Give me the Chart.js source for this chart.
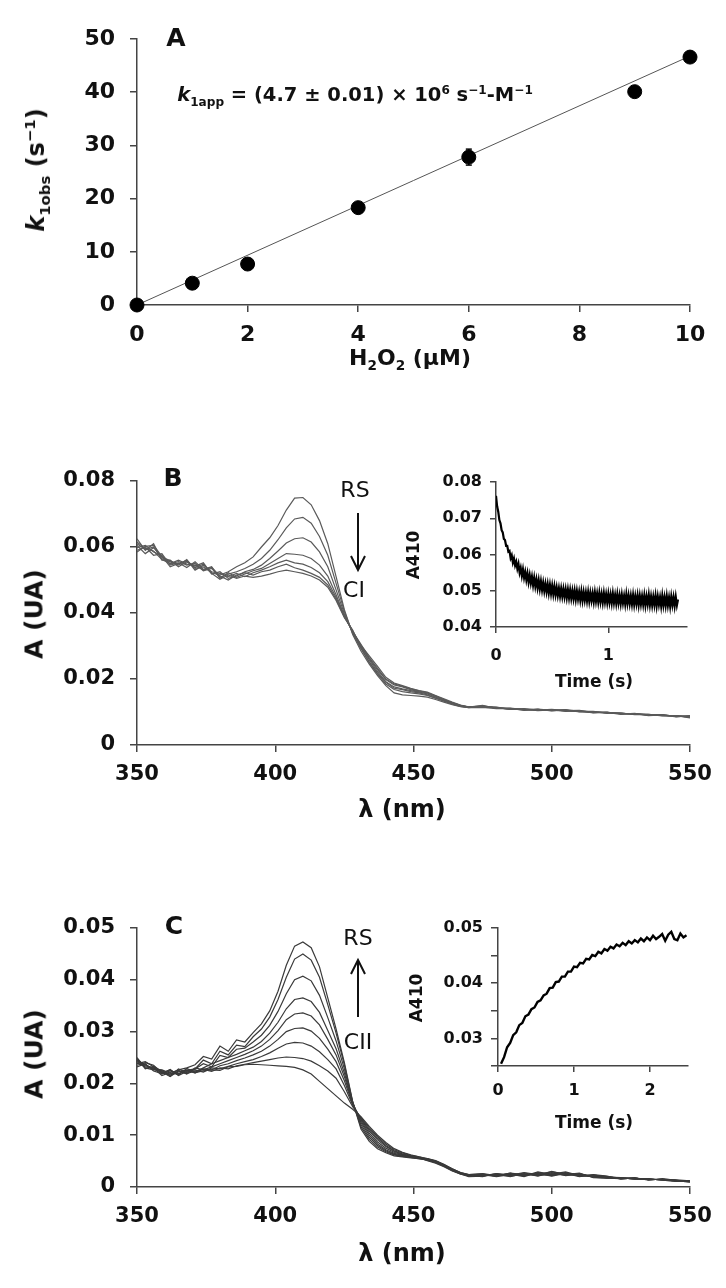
<!DOCTYPE html>
<html>
<head>
<meta charset="utf-8">
<script src="https://cdn.jsdelivr.net/npm/chart.js@4.4.1/dist/chart.umd.min.js"></script>
<style>
  body { margin: 0; background: #fff; }
  #page { position: relative; width: 726px; height: 1288px; overflow: hidden; font-family: "DejaVu Sans", sans-serif; color: #111; }
  canvas { position: absolute; left: 0; top: 0; }
  .t { position: absolute; white-space: nowrap; transform: translate(-50%, -50%); line-height: 1; font-weight: bold; z-index: 5; }
  .rot { transform: translate(-50%, -50%) rotate(-90deg); }
  .n { font-weight: normal; }
  sub, sup { font-size: 62%; line-height: 0; }
  svg { position: absolute; left: 0; top: 0; z-index: 5; }
</style>
</head>
<body>
<div id="page">
  <canvas id="cA" width="726" height="1288"></canvas>
  <canvas id="cB" width="726" height="1288"></canvas>
  <canvas id="cBi" width="726" height="1288"></canvas>
  <canvas id="cC" width="726" height="1288"></canvas>
  <canvas id="cCi" width="726" height="1288"></canvas>

  <!-- panel A texts -->
  <div class="t" style="left:176px;top:37px;font-size:25px">A</div>
  <div class="t" style="left:355px;top:95px;font-size:19.5px"><i>k</i><sub>1app</sub> = (4.7 ± 0.01) × 10<sup>6</sup> s<sup>−1</sup>-M<sup>−1</sup></div>
  <div class="t rot" style="left:36px;top:170px;font-size:24px"><i>k</i><sub>1obs</sub> (s<sup>−1</sup>)</div>
  <div class="t" style="left:410px;top:358px;font-size:22px">H<sub>2</sub>O<sub>2</sub> (µM)</div>

  <!-- panel B texts -->
  <div class="t" style="left:173px;top:477px;font-size:25px">B</div>
  <div class="t n" style="left:355px;top:490px;font-size:22px">RS</div>
  <div class="t n" style="left:354px;top:590px;font-size:22px">CI</div>
  <div class="t rot" style="left:34px;top:614px;font-size:25px">A (UA)</div>
  <div class="t" style="left:402px;top:809px;font-size:24px">λ (nm)</div>
  <div class="t rot" style="left:413px;top:555px;font-size:17px">A410</div>
  <div class="t" style="left:594px;top:681px;font-size:17px">Time (s)</div>

  <!-- panel C texts -->
  <div class="t" style="left:174px;top:925px;font-size:25px">C</div>
  <div class="t n" style="left:358px;top:938px;font-size:22px">RS</div>
  <div class="t n" style="left:358px;top:1042px;font-size:22px">CII</div>
  <div class="t rot" style="left:34px;top:1054px;font-size:25px">A (UA)</div>
  <div class="t" style="left:402px;top:1253px;font-size:24px">λ (nm)</div>
  <div class="t rot" style="left:416px;top:998px;font-size:17px">A410</div>
  <div class="t" style="left:594px;top:1122px;font-size:17px">Time (s)</div>

  <svg width="726" height="1288">
    <g stroke="#111" stroke-width="2" fill="none">
      <line x1="358" y1="513" x2="358" y2="569"/>
      <polyline points="351,556 358,570 365,556"/>
      <line x1="358" y1="1017" x2="358" y2="961"/>
      <polyline points="351,974 358,960 365,974"/>
    </g>
  </svg>
</div>

<script>
// ---- panel A: k1obs vs H2O2 ----
const h2o2 = [0, 1, 2, 4, 6, 9, 10];
const k1obs = [0, 4.1, 7.7, 18.3, 27.8, 40.1, 46.6];
const errX = [6, 6];
const errY = [26.3, 29.3];
const fitX = [0, 10];
const fitY = [0, 46.8];

// ---- panels B and C: spectra ----
const wl = [350, 353, 356, 359, 362, 365, 368, 371, 374, 377,
            380, 383, 386, 389, 392, 395, 398, 401, 404, 407,
            410, 413, 416, 419, 422, 425, 428, 431, 434, 437,
            440, 443, 446, 449, 452, 455, 458, 461, 464, 467,
            470,
            475, 480, 485, 490, 495, 500, 505, 510, 515, 520, 525, 530, 535, 540, 545, 550];

// RS -> CI
const specB = [
  [.0610,.0592,.0600,.0565,.0555,.0548,.0560,.0535,.0540,.0522,
   .0515,.0525,.0540,.0552,.0570,.0600,.0628,.0665,.0712,.0748,
   .0750,.0728,.0680,.0610,.0510,.0410,.0335,.0285,.0245,.0210,
   .0180,.0158,.0152,.0150,.0148,.0145,.0138,.0130,.0122,.0116,
   .0113,
   .0118,.0112,.0110,.0106,.0108,.0104,.0106,.0101,.0100,.0098,.0096,.0094,.0092,.0090,.0088,.0086],
  [.0598,.0605,.0585,.0575,.0548,.0556,.0545,.0550,.0528,.0535,
   .0508,.0518,.0525,.0535,.0548,.0565,.0590,.0622,.0658,.0685,
   .0690,.0672,.0632,.0575,.0490,.0405,.0338,.0292,.0252,.0218,
   .0190,.0172,.0168,.0162,.0158,.0152,.0142,.0134,.0125,.0118,
   .0114,
   .0115,.0114,.0108,.0109,.0105,.0107,.0103,.0104,.0098,.0100,.0094,.0096,.0090,.0092,.0086,.0088],
  [.0625,.0590,.0610,.0560,.0560,.0540,.0555,.0542,.0552,.0518,
   .0525,.0505,.0512,.0525,.0532,.0545,.0565,.0588,.0612,.0625,
   .0628,.0615,.0585,.0540,.0470,.0398,.0340,.0298,.0262,.0228,
   .0198,.0182,.0176,.0168,.0162,.0158,.0148,.0138,.0128,.0120,
   .0115,
   .0120,.0111,.0112,.0107,.0109,.0105,.0107,.0102,.0102,.0097,.0097,.0093,.0093,.0089,.0089,.0084],
  [.0590,.0600,.0575,.0580,.0545,.0552,.0538,.0555,.0532,.0540,
   .0505,.0522,.0508,.0518,.0528,.0535,.0550,.0565,.0580,.0578,
   .0575,.0565,.0545,.0512,.0455,.0392,.0342,.0302,.0270,.0238,
   .0205,.0188,.0180,.0172,.0165,.0160,.0150,.0140,.0130,.0121,
   .0116,
   .0116,.0115,.0109,.0110,.0106,.0108,.0104,.0105,.0099,.0099,.0095,.0095,.0091,.0091,.0087,.0087],
  [.0605,.0580,.0598,.0570,.0558,.0545,.0562,.0530,.0545,.0525,
   .0520,.0510,.0520,.0510,.0522,.0530,.0540,.0552,.0560,.0552,
   .0548,.0538,.0522,.0495,.0448,.0390,.0344,.0305,.0265,.0232,
   .0200,.0185,.0178,.0170,.0164,.0158,.0148,.0138,.0128,.0120,
   .0115,
   .0119,.0112,.0111,.0105,.0108,.0103,.0106,.0100,.0101,.0096,.0097,.0092,.0093,.0088,.0089,.0082],
  [.0615,.0595,.0588,.0562,.0550,.0560,.0548,.0545,.0530,.0538,
   .0512,.0500,.0515,.0522,.0515,.0525,.0530,.0540,.0548,.0537,
   .0530,.0520,.0508,.0485,.0442,.0388,.0346,.0300,.0258,.0222,
   .0192,.0176,.0170,.0165,.0160,.0155,.0145,.0136,.0126,.0119,
   .0114,
   .0117,.0113,.0108,.0108,.0104,.0106,.0102,.0103,.0097,.0099,.0093,.0095,.0089,.0091,.0085,.0089],
  [.0585,.0602,.0605,.0572,.0540,.0550,.0556,.0538,.0548,.0520,
   .0502,.0515,.0505,.0512,.0508,.0512,.0518,.0525,.0530,.0525,
   .0520,.0512,.0500,.0478,.0438,.0386,.0348,.0295,.0250,.0215,
   .0185,.0168,.0162,.0158,.0155,.0150,.0142,.0133,.0124,.0117,
   .0113,
   .0114,.0110,.0110,.0107,.0107,.0105,.0105,.0102,.0100,.0098,.0096,.0094,.0092,.0090,.0088,.0085]
];

// RS (top) down to CII
const specC = [
  [.0245,.0236,.0228,.0222,.0218,.0226,.0230,.0236,.0252,.0247,
   .0272,.0262,.0284,.0280,.0298,.0315,.0340,.0378,.0428,.0465,
   .0473,.0462,.0425,.0365,.0305,.0240,.0165,.0112,.0088,.0074,
   .0066,.0060,.0058,.0056,.0055,.0052,.0047,.0040,.0032,.0026,
   .0021,
   .0022,.0024,.0021,.0025,.0022,.0026,.0023,.0024,.0020,.0018,.0017,.0016,.0015,.0014,.0012,.0011],
  [.0238,.0242,.0232,.0218,.0224,.0219,.0225,.0228,.0245,.0238,
   .0262,.0255,.0274,.0271,.0290,.0305,.0328,.0362,.0405,.0440,
   .0450,.0438,.0405,.0352,.0297,.0236,.0164,.0116,.0092,.0077,
   .0068,.0062,.0059,.0057,.0054,.0053,.0049,.0042,.0034,.0027,
   .0023,
   .0025,.0021,.0026,.0022,.0027,.0023,.0028,.0021,.0023,.0020,.0016,.0017,.0014,.0015,.0013,.0012],
  [.0250,.0230,.0226,.0225,.0214,.0228,.0221,.0228,.0238,.0232,
   .0254,.0250,.0266,.0268,.0280,.0293,.0312,.0339,.0373,.0400,
   .0407,.0398,.0370,.0327,.0282,.0228,.0163,.0120,.0096,.0080,
   .0070,.0063,.0060,.0057,.0056,.0051,.0046,.0039,.0031,.0025,
   .0020,
   .0021,.0026,.0023,.0028,.0024,.0029,.0025,.0026,.0019,.0017,.0018,.0015,.0016,.0013,.0012,.0010],
  [.0235,.0240,.0235,.0220,.0226,.0216,.0229,.0222,.0230,.0238,
   .0244,.0250,.0256,.0263,.0270,.0281,.0297,.0318,.0344,.0362,
   .0365,.0358,.0337,.0302,.0267,.0220,.0162,.0124,.0100,.0083,
   .0072,.0065,.0061,.0058,.0055,.0054,.0050,.0043,.0035,.0028,
   .0024,
   .0026,.0022,.0027,.0021,.0029,.0024,.0027,.0023,.0022,.0019,.0016,.0017,.0014,.0015,.0014,.0012],
  [.0242,.0234,.0230,.0215,.0221,.0225,.0218,.0230,.0226,.0232,
   .0238,.0244,.0250,.0256,.0263,.0272,.0285,.0302,.0323,.0334,
   .0336,.0330,.0313,.0285,.0255,.0213,.0161,.0127,.0104,.0087,
   .0075,.0067,.0062,.0059,.0057,.0052,.0048,.0041,.0033,.0026,
   .0022,
   .0023,.0025,.0020,.0026,.0021,.0028,.0022,.0025,.0021,.0018,.0017,.0016,.0015,.0014,.0012,.0011],
  [.0248,.0228,.0233,.0224,.0216,.0222,.0226,.0220,.0228,.0226,
   .0234,.0238,.0244,.0249,.0255,.0262,.0272,.0285,.0300,.0306,
   .0307,.0301,.0287,.0266,.0242,.0205,.0160,.0130,.0108,.0091,
   .0078,.0069,.0063,.0059,.0056,.0055,.0050,.0043,.0034,.0027,
   .0023,
   .0024,.0020,.0024,.0023,.0026,.0021,.0026,.0020,.0024,.0021,.0015,.0018,.0013,.0016,.0013,.0010],
  [.0232,.0238,.0224,.0219,.0227,.0215,.0223,.0226,.0222,.0230,
   .0228,.0233,.0238,.0242,.0246,.0252,.0259,.0268,.0276,.0279,
   .0278,.0272,.0261,.0246,.0228,.0196,.0158,.0132,.0111,.0094,
   .0080,.0070,.0064,.0060,.0057,.0053,.0049,.0042,.0033,.0026,
   .0021,
   .0022,.0023,.0025,.0020,.0028,.0025,.0029,.0022,.0020,.0019,.0018,.0015,.0016,.0013,.0011,.0012],
  [.0240,.0232,.0230,.0222,.0213,.0224,.0219,.0224,.0227,.0223,
   .0230,.0228,.0234,.0237,.0240,.0243,.0246,.0249,.0251,.0250,
   .0248,.0243,.0234,.0224,.0210,.0184,.0155,.0134,.0114,.0097,
   .0083,.0072,.0066,.0061,.0058,.0054,.0048,.0041,.0032,.0025,
   .0022,
   .0020,.0026,.0022,.0027,.0023,.0030,.0024,.0027,.0018,.0017,.0016,.0017,.0014,.0015,.0013,.0011],
  [.0244,.0236,.0227,.0226,.0220,.0218,.0225,.0221,.0224,.0226,
   .0225,.0232,.0233,.0236,.0237,.0236,.0235,.0234,.0233,.0231,
   .0226,.0218,.0204,.0190,.0176,.0162,.0150,.0136,.0117,.0100,
   .0086,.0074,.0067,.0062,.0058,.0055,.0051,.0044,.0035,.0028,
   .0024,
   .0025,.0021,.0027,.0024,.0025,.0022,.0027,.0021,.0023,.0020,.0017,.0016,.0015,.0014,.0012,.0010]
];

// ---- insets: A410 vs time ----
const tB = [0.00,0.01,0.02,0.03,0.04,0.05,0.06,0.07,0.08,0.09,
            0.10,0.11,0.12,0.13,0.14,0.15,0.16,0.17,0.18,0.19,
            0.20,0.21,0.22,0.23,0.24,0.25,0.26,0.27,0.28,0.29,
            0.30,0.31,0.32,0.33,0.34,0.35,0.36,0.37,0.38,0.39,
            0.40,0.41,0.42,0.43,0.44,0.45,0.46,0.47,0.48,0.49,
            0.50,0.51,0.52,0.53,0.54,0.55,0.56,0.57,0.58,0.59,
            0.60,0.61,0.62,0.63,0.64,0.65,0.66,0.67,0.68,0.69,
            0.70,0.71,0.72,0.73,0.74,0.75,0.76,0.77,0.78,0.79,
            0.80,0.81,0.82,0.83,0.84,0.85,0.86,0.87,0.88,0.89,
            0.90,0.91,0.92,0.93,0.94,0.95,0.96,0.97,0.98,0.99,
            1.00,1.01,1.02,1.03,1.04,1.05,1.06,1.07,1.08,1.09,
            1.10,1.11,1.12,1.13,1.14,1.15,1.16,1.17,1.18,1.19,
            1.20,1.21,1.22,1.23,1.24,1.25,1.26,1.27,1.28,1.29,
            1.30,1.31,1.32,1.33,1.34,1.35,1.36,1.37,1.38,1.39,
            1.40,1.41,1.42,1.43,1.44,1.45,1.46,1.47,1.48,1.49,
            1.50,1.51,1.52,1.53,1.54,1.55,1.56,1.57,1.58,1.59,
            1.60,1.61,1.62];
const a410B = [.0762,.0733,.0718,.0695,.0686,.0667,.0661,.0643,.0640,.0624,
               .0624,.0608,.0610,.0590,.0598,.0578,.0589,.0570,.0580,.0561,
               .0574,.0550,.0563,.0541,.0559,.0536,.0552,.0530,.0548,.0524,
               .0543,.0521,.0539,.0515,.0536,.0512,.0531,.0508,.0529,.0505,
               .0526,.0502,.0522,.0499,.0519,.0497,.0518,.0494,.0516,.0492,
               .0514,.0490,.0512,.0489,.0509,.0487,.0507,.0485,.0506,.0484,
               .0505,.0483,.0504,.0481,.0503,.0480,.0502,.0479,.0500,.0478,
               .0500,.0476,.0499,.0477,.0497,.0474,.0498,.0473,.0496,.0474,
               .0495,.0472,.0496,.0471,.0494,.0473,.0493,.0470,.0495,.0471,
               .0492,.0469,.0494,.0470,.0491,.0468,.0493,.0469,.0490,.0467,
               .0491,.0468,.0489,.0466,.0492,.0467,.0488,.0465,.0490,.0466,
               .0487,.0464,.0489,.0466,.0486,.0463,.0490,.0465,.0487,.0464,
               .0486,.0463,.0488,.0462,.0485,.0464,.0487,.0461,.0486,.0463,
               .0485,.0462,.0487,.0460,.0484,.0463,.0488,.0461,.0484,.0460,
               .0483,.0461,.0486,.0459,.0484,.0462,.0482,.0458,.0486,.0460,
               .0482,.0459,.0485,.0460,.0481,.0457,.0484,.0461,.0482,.0458,
               .0483,.0460,.0476];

const tC = [0.04,0.08,0.12,0.16,0.20,0.24,0.28,0.32,0.36,0.40,
            0.44,0.48,0.52,0.56,0.60,0.64,0.68,0.72,0.76,0.80,
            0.84,0.88,0.92,0.96,1.00,1.04,1.08,1.12,1.16,1.20,
            1.24,1.28,1.32,1.36,1.40,1.44,1.48,1.52,1.56,1.60,
            1.64,1.68,1.72,1.76,1.80,1.84,1.88,1.92,1.96,2.00,
            2.04,2.08,2.12,2.16,2.20,2.24,2.28,2.32,2.36,2.40,
            2.44,2.48];
const a410C = [.0254,.0266,.0284,.0292,.0306,.0311,.0324,.0328,.0340,.0343,
               .0353,.0356,.0366,.0369,.0378,.0381,.0391,.0392,.0402,.0403,
               .0412,.0412,.0421,.0421,.0430,.0429,.0437,.0436,.0444,.0443,
               .0451,.0449,.0457,.0454,.0462,.0459,.0466,.0463,.0470,.0467,
               .0473,.0469,.0476,.0472,.0478,.0474,.0481,.0476,.0483,.0478,
               .0486,.0480,.0484,.0489,.0477,.0488,.0493,.0480,.0478,.0490,
               .0483,.0487];

// ---------------------------------------------------------------
const W = 726, H = 1288;
const YW = 80, XH = 60;
const AXIS = "#444";

function pts(xs, ys) {
  return ys.map((v, i) => ({ x: xs[i], y: v }));
}

function axis(opt, size) {
  const a = {
    type: "linear",
    min: opt.min,
    max: opt.max,
    border: { display: true, color: AXIS, width: 1.5 },
    grid: { display: true, drawOnChartArea: false, drawTicks: true, tickLength: opt.tl || 7, color: AXIS, lineWidth: 1.5 },
    ticks: {
      stepSize: opt.step,
      autoSkip: false,
      maxRotation: 0,
      includeBounds: opt.bounds !== false,
      padding: opt.pad,
      color: "#111",
      font: { family: "DejaVu Sans", weight: "bold", size: size },
      callback: opt.fmt || (v => String(v))
    }
  };
  if (opt.tickValues) {
    a.afterBuildTicks = s => { s.ticks = opt.tickValues.map(v => ({ value: v })); };
  }
  return a;
}

function panel(id, area, xo, yo, datasets, size) {
  const x = axis(xo, size);
  const y = axis(yo, size);
  x.afterFit = s => { s.height = XH; };
  y.afterFit = s => { s.width = YW; };
  return new Chart(document.getElementById(id), {
    type: "scatter",
    data: { datasets: datasets },
    options: {
      responsive: false,
      animation: false,
      devicePixelRatio: 1,
      events: [],
      layout: { padding: { left: area.l - YW, top: area.t, right: W - area.r, bottom: H - area.b - XH } },
      plugins: { legend: { display: false }, tooltip: { enabled: false } },
      scales: { x: x, y: y }
    }
  });
}

const fix2 = v => (Math.abs(v) < 1e-9 ? "0" : v.toFixed(2));

// panel A
panel("cA", { l: 137, t: 39, r: 690, b: 305 },
  { min: 0, max: 10, step: 2, pad: 10 },
  { min: 0, max: 50, step: 10, pad: 15 },
  [
    { data: pts(h2o2, k1obs), pointRadius: 7, pointBackgroundColor: "#000", pointBorderColor: "#000", showLine: false, clip: false },
    { data: pts(errX, errY), showLine: true, borderColor: "#000", borderWidth: 1.5, pointStyle: "line", pointRadius: 3, pointBorderColor: "#000", pointBorderWidth: 1.5 },
    { data: pts(fitX, fitY), showLine: true, borderColor: "#555", borderWidth: 1, pointRadius: 0, clip: false }
  ], 22);

// panel B
panel("cB", { l: 137, t: 481, r: 690, b: 745 },
  { min: 350, max: 550, step: 50, pad: 10 },
  { min: 0, max: 0.08, step: 0.02, pad: 15, fmt: fix2 },
  specB.map(s => ({ data: pts(wl, s), showLine: true, borderColor: "#5a5a5a", borderWidth: 1.2, pointRadius: 0 })),
  21);

panel("cBi", { l: 496, t: 482, r: 687, b: 627 },
  { min: 0, max: 1.7, step: 1, pad: 13, bounds: false, tl: 6 },
  { min: 0.04, max: 0.08, step: 0.01, pad: 8, fmt: v => v.toFixed(2), tl: 6 },
  [{ data: pts(tB, a410B), showLine: true, borderColor: "#000", borderWidth: 2.2, pointRadius: 0 }],
  16);

// panel C
panel("cC", { l: 137, t: 928, r: 690, b: 1187 },
  { min: 350, max: 550, step: 50, pad: 10 },
  { min: 0, max: 0.05, step: 0.01, pad: 15, fmt: fix2 },
  specC.map(s => ({ data: pts(wl, s), showLine: true, borderColor: "#3a3a3a", borderWidth: 1.2, pointRadius: 0 })),
  21);

panel("cCi", { l: 498, t: 928, r: 688, b: 1066 },
  { min: 0, max: 2.5, step: 1, pad: 9, bounds: false, tl: 6 },
  { min: 0.025, max: 0.05, step: 0.005, pad: 8, tl: 7,
    tickValues: [0.025, 0.03, 0.035, 0.04, 0.045, 0.05],
    fmt: v => { const r = Math.round(v * 1000); return r % 10 === 0 ? (r / 1000).toFixed(2) : " "; } },
  [{ data: pts(tC, a410C), showLine: true, borderColor: "#000", borderWidth: 2.4, pointRadius: 0 }],
  16);
</script>
</body>
</html>
